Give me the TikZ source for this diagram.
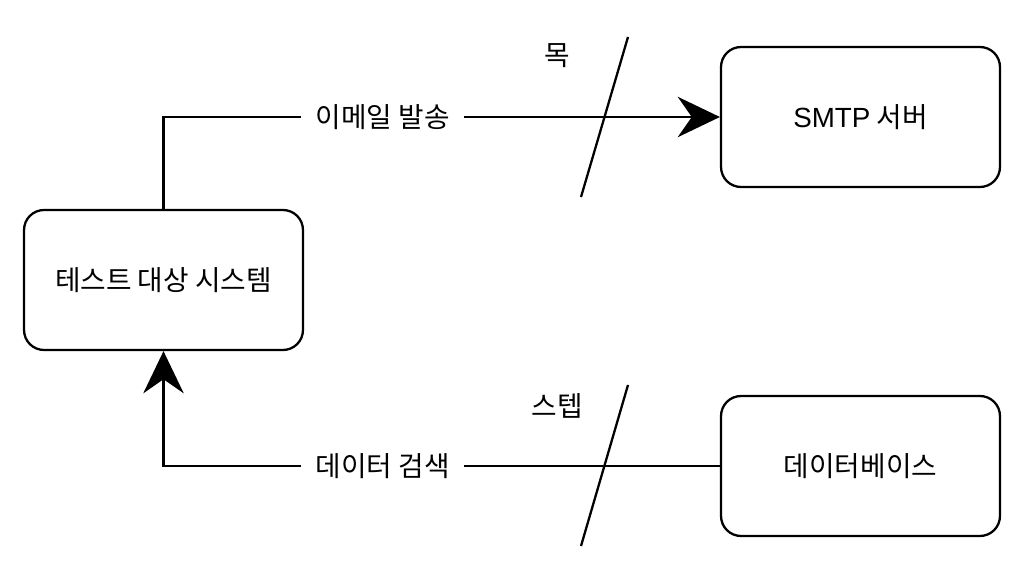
\documentclass[tikz,border=0pt]{standalone}
\usepackage{fontspec}
\setmainfont{Noto Sans CJK KR}
\newfontfamily\latinfont{Liberation Sans}
\usetikzlibrary{arrows.meta}

\begin{document}
\begin{tikzpicture}[
    x=0.02cm, y=-0.02cm,
    font=\fontsize{15.8}{18}\selectfont,
    box/.style={rectangle, rounded corners=0.4cm, draw, line width=1.3pt, minimum width=5.58cm, minimum height=2.8cm},
    flow/.style={line width=1.3pt, -{Stealth[length=24pt, width=23pt, inset=8pt]}},
    tag/.style={fill=white, minimum width=3.26cm, inner ysep=2pt},
    slash/.style={line width=1.3pt}
]
\useasboundingbox (0,0) rectangle (1024,574);

% Components
\node[box] (sut) at (163.5, 280) {테스트 대상 시스템};
\node[box] (smtp) at (860.5, 117) {{\latinfont SMTP} 서버};
\node[box] (db) at (860.5, 466) {데이터베이스};

% Connectors
\draw[flow] (sut.north) |- (smtp.west) node[tag, pos=0.697] (send) {이메일 발송};
\draw[flow] (db.west) -| (sut.south) node[tag, pos=0.303] (fetch) {데이터 검색};

% Test doubles
\coordinate (m1) at (628, 37);
\coordinate (m2) at (581, 197);
\coordinate (s1) at (628, 385);
\coordinate (s2) at (581, 546);
\draw[slash] (m1) -- (m2);
\draw[slash] (s1) -- (s2);
\node (mock) at (557, 56) {목};
\node (stub) at (557, 406) {스텝};

\end{tikzpicture}
\end{document}
